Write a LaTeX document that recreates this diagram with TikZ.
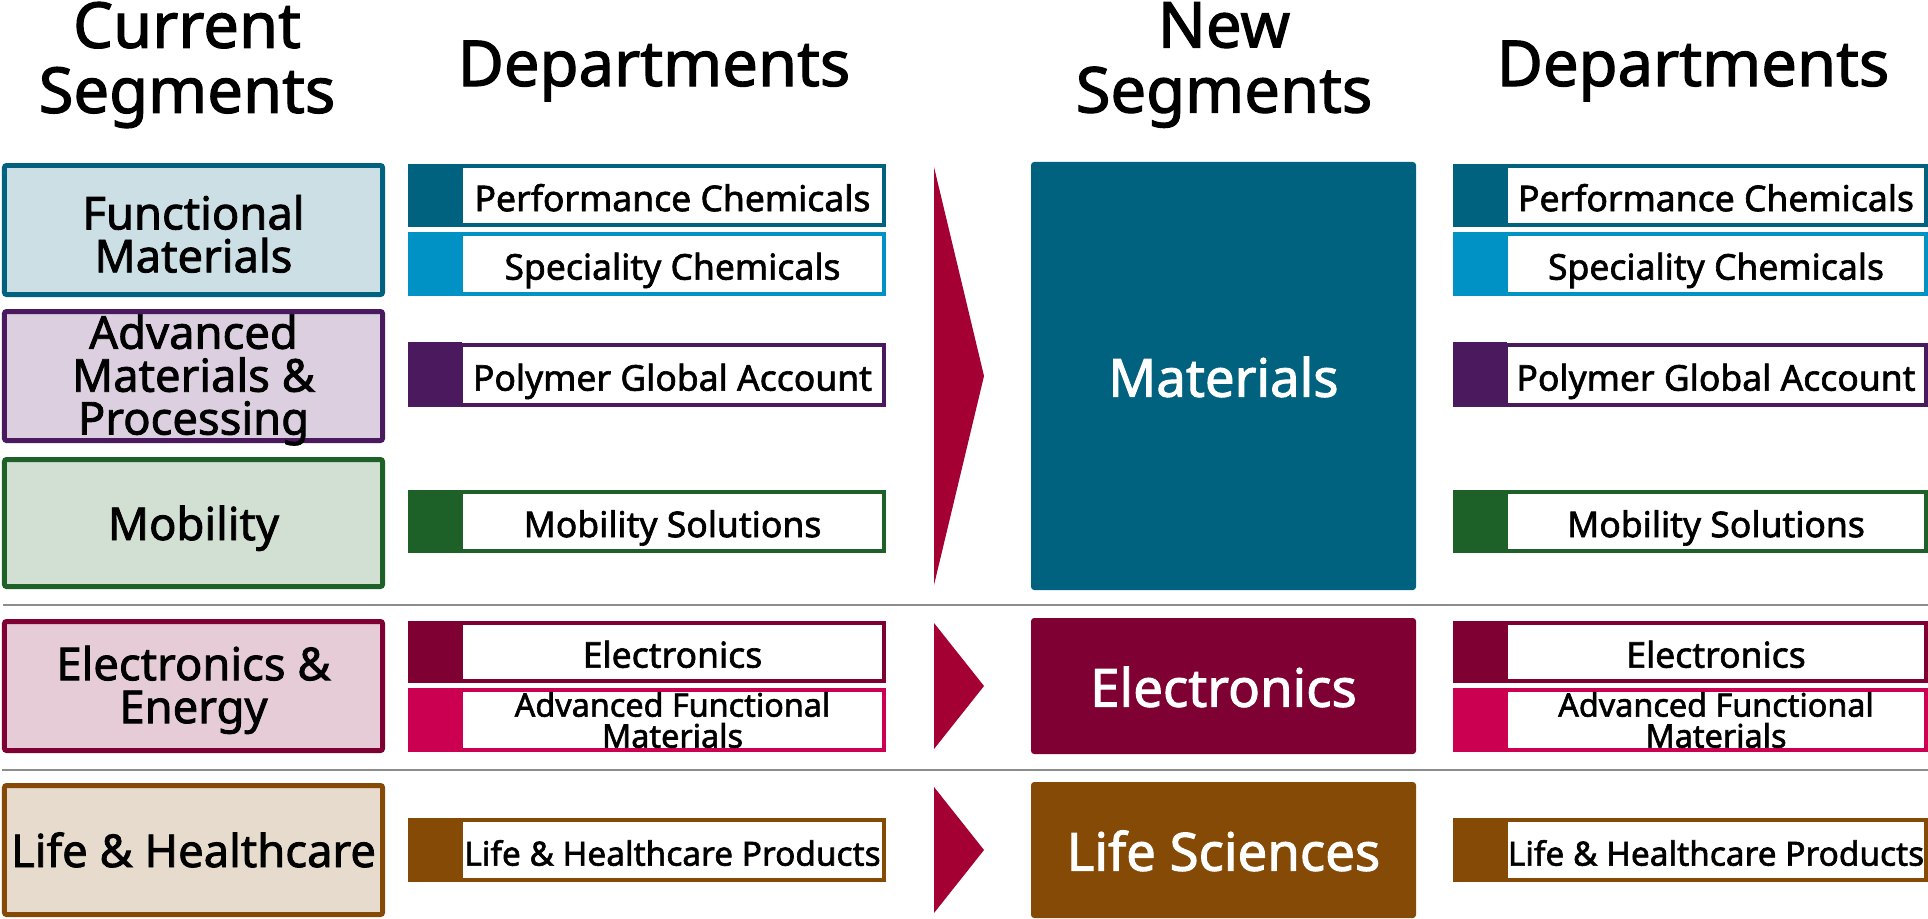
\documentclass[tikz,border=0pt]{standalone}
\usepackage{fontspec}
\setmainfont{Noto Sans}[FakeBold=1.8]
\definecolor{cTeal}{HTML}{00627F}
\definecolor{cBlue}{HTML}{0091C5}
\definecolor{cPurple}{HTML}{4B1A5E}
\definecolor{cGreen}{HTML}{1D6128}
\definecolor{cMaroon}{HTML}{7F0032}
\definecolor{cPink}{HTML}{CC0050}
\definecolor{cBrown}{HTML}{844A06}
\definecolor{cArrow}{HTML}{A50034}
\definecolor{fTeal}{HTML}{CCDFE5}
\definecolor{fPurple}{HTML}{DBCFE0}
\definecolor{fGreen}{HTML}{D2E0D4}
\definecolor{fMaroon}{HTML}{E6CCD6}
\definecolor{fBrown}{HTML}{E6DBCD}
\definecolor{cSep}{HTML}{8C8C8C}
% box node plus its label node: [box style]{label style}{name}{x1}{y1}{x2}{y2}{text}
\newcommand\boxnode[8][]{%
  \pgfmathsetmacro\bxw{(#6-#4)*0.01}%
  \pgfmathsetmacro\bxh{(#7-#5)*0.01}%
  \node[#1, inner sep=0, minimum width=\bxw cm, minimum height=\bxh cm] (#3) at ({(#4+#6)/2},{(#5+#7)/2}) {};
  \node[#2] (#3-t) at (#3.center) {#8};}
% plain filled square: [style]{name}{x1}{y1}{x2}{y2}
\newcommand\sqnode[6][]{%
  \pgfmathsetmacro\bxw{(#5-#3)*0.01}%
  \pgfmathsetmacro\bxh{(#6-#4)*0.01}%
  \node[#1, inner sep=0, minimum width=\bxw cm, minimum height=\bxh cm] (#2) at ({(#3+#5)/2},{(#4+#6)/2}) {};}
\begin{document}
\begin{tikzpicture}[x=0.01cm,y=-0.01cm,
  hdr/.style={font=\fontsize{18}{18.5}\selectfont, align=center, inner sep=0},
  segbox/.style={draw=#1, line width=1.42pt, rounded corners=0.6pt},
  seglabel/.style={align=center, inner sep=0, font=\fontsize{12.9}{12.2}\selectfont, yshift=-1.1pt},
  seglabelone/.style={inner sep=0, font=\fontsize{12.9}{12.2}\selectfont, text height=9.8pt, text depth=3.1pt, yshift=-1.5pt},
  deptbox/.style={draw=#1, fill=white, line width=1.1pt},
  deptlabel/.style={inner sep=0, font=\fontsize{10.1}{9}\selectfont, text height=7.75pt, text depth=2.45pt, yshift=-1.8pt},
  afmlabel/.style={align=center, inner sep=0, font=\fontsize{9.2}{8.8}\selectfont},
  deptsq/.style={fill=#1, draw=none},
  newseg/.style={fill=#1, draw=none, rounded corners=0.9pt},
  newlabel/.style={inner sep=0, text=white, font=\fontsize{15}{15}\selectfont, text height=11.4pt, text depth=3.6pt, yshift=-2pt},
  chevron/.style={fill=cArrow, draw=none},
  sepline/.style={draw=cSep, line width=0.8pt}
]
\clip (0,0) rectangle (1928,918);
\fill[white] (0,0) rectangle (1928,918);

% headers
\node[hdr] (hcur) at (187,65) {Current\\Segments};
\node[hdr, anchor=base] (hdep1) at (654,86) {Departments};
\node[hdr] (hnew) at (1224,65) {New\\Segments};
\node[hdr, anchor=base] (hdep2) at (1693,86) {Departments};

% current segments
\boxnode[segbox=cTeal, fill=fTeal]{seglabel}{sFM}{4.5}{165.5}{382.5}{294.5}{Functional\\Materials}
\boxnode[segbox=cPurple, fill=fPurple]{seglabel}{sAMP}{4.5}{311.5}{382.5}{440.5}{Advanced\\Materials \&\\Processing}
\boxnode[segbox=cGreen, fill=fGreen]{seglabelone}{sMob}{4.5}{459.5}{382.5}{586.5}{Mobility}
\boxnode[segbox=cMaroon, fill=fMaroon]{seglabel}{sEE}{4.5}{621.5}{382.5}{750.5}{Electronics \&\\Energy}
\boxnode[segbox=cBrown, fill=fBrown]{seglabelone}{sLH}{4.5}{785.5}{382.5}{914.5}{Life \& Healthcare}

% left departments
\boxnode[deptbox=cTeal]{deptlabel}{dPC}{461}{166}{884}{225}{Performance Chemicals}
\sqnode[deptsq=cTeal]{qPC}{408}{164}{462}{227}
\boxnode[deptbox=cBlue]{deptlabel}{dSC}{461}{234}{884}{294}{Speciality Chemicals}
\sqnode[deptsq=cBlue]{qSC}{408}{232}{462}{296}
\boxnode[deptbox=cPurple]{deptlabel}{dPG}{461}{345}{884}{405}{Polymer Global Account}
\sqnode[deptsq=cPurple]{qPG}{408}{342}{462}{407}
\boxnode[deptbox=cGreen]{deptlabel}{dMS}{461}{492}{884}{551}{Mobility Solutions}
\sqnode[deptsq=cGreen]{qMS}{408}{490}{462}{553}
\boxnode[deptbox=cMaroon]{deptlabel}{dEL}{461}{623}{884}{681}{Electronics}
\sqnode[deptsq=cMaroon]{qEL}{408}{621}{462}{683}
\boxnode[deptbox=cPink]{afmlabel}{dAF}{461}{690}{884}{750}{Advanced Functional\\Materials}
\sqnode[deptsq=cPink]{qAF}{408}{688}{462}{752}
\boxnode[deptbox=cBrown]{deptlabel, font=\fontsize{9.5}{9}\selectfont}{dLH}{461}{820}{884}{880}{Life \& Healthcare Products}
\sqnode[deptsq=cBrown]{qLH}{408}{818}{462}{882}

% chevrons
\fill[chevron] (934,167) -- (984,376) -- (934,585) -- cycle;
\fill[chevron] (934,623) -- (984,686) -- (934,749) -- cycle;
\fill[chevron] (934,787) -- (984,850) -- (934,913) -- cycle;

% new segments
\boxnode[newseg=cTeal]{newlabel}{nMat}{1031}{162}{1416}{590}{Materials}
\boxnode[newseg=cMaroon]{newlabel}{nEl}{1031}{618}{1416}{754}{Electronics}
\boxnode[newseg=cBrown]{newlabel}{nLS}{1031}{782}{1416}{918}{Life Sciences}

% right departments
\boxnode[deptbox=cTeal]{deptlabel}{rPC}{1506}{166}{1926}{225}{Performance Chemicals}
\sqnode[deptsq=cTeal]{rqPC}{1453}{164}{1507}{227}
\boxnode[deptbox=cBlue]{deptlabel}{rSC}{1506}{234}{1926}{294}{Speciality Chemicals}
\sqnode[deptsq=cBlue]{rqSC}{1453}{232}{1507}{296}
\boxnode[deptbox=cPurple]{deptlabel}{rPG}{1506}{345}{1926}{405}{Polymer Global Account}
\sqnode[deptsq=cPurple]{rqPG}{1453}{342}{1507}{407}
\boxnode[deptbox=cGreen]{deptlabel}{rMS}{1506}{492}{1926}{551}{Mobility Solutions}
\sqnode[deptsq=cGreen]{rqMS}{1453}{490}{1507}{553}
\boxnode[deptbox=cMaroon]{deptlabel}{rEL}{1506}{623}{1926}{681}{Electronics}
\sqnode[deptsq=cMaroon]{rqEL}{1453}{621}{1507}{683}
\boxnode[deptbox=cPink]{afmlabel}{rAF}{1506}{690}{1926}{750}{Advanced Functional\\Materials}
\sqnode[deptsq=cPink]{rqAF}{1453}{688}{1507}{752}
\boxnode[deptbox=cBrown]{deptlabel, font=\fontsize{9.5}{9}\selectfont}{rLH}{1506}{820}{1926}{880}{Life \& Healthcare Products}
\sqnode[deptsq=cBrown]{rqLH}{1453}{818}{1507}{882}

% separators
\draw[sepline] (3,605) -- (1928,605);
\draw[sepline] (2,770) -- (1928,770);
\end{tikzpicture}
\end{document}
